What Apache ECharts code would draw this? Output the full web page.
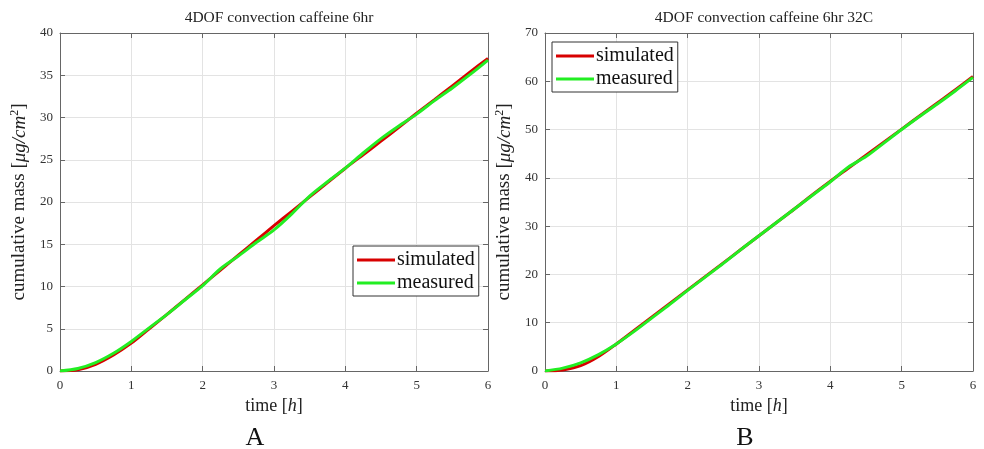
<!DOCTYPE html>
<html>
<head>
<meta charset="utf-8">
<script src="https://cdn.jsdelivr.net/npm/echarts@6/dist/echarts.min.js"></script>
<style>
  html, body { margin: 0; padding: 0; background: #fff; }
  #chart { width: 984px; height: 449px; }
</style>
</head>
<body>
<div id="chart"></div>
<script>
// Time grid (hours)
const timeH = [0, 0.25, 0.5, 0.75, 1, 1.25, 1.5, 1.75, 2, 2.25, 2.5, 2.75, 3,
  3.25, 3.5, 3.75, 4, 4.25, 4.5, 4.75, 5, 5.25, 5.5, 5.75, 6];

// Panel A: 4DOF convection caffeine 6hr
const simA = [0, 0.15, 0.8, 1.9, 3.3, 5.0, 6.7, 8.45, 10.2, 11.95, 13.7, 15.45, 17.2,
  18.9, 20.6, 22.3, 24.0, 25.6, 27.2, 28.85, 30.5, 32.1, 33.75, 35.4, 37.0];
const measA = [0, 0.3, 1.0, 2.1, 3.5, 5.1, 6.7, 8.4, 10.1, 12.1, 13.6, 15.2, 16.7,
  18.6, 20.7, 22.4, 24.0, 25.8, 27.5, 29.0, 30.4, 32.0, 33.5, 35.1, 36.8];

// Panel B: 4DOF convection caffeine 6hr 32C
const simB = [0, 0.2, 1.1, 3.0, 5.6, 8.4, 11.2, 14.0, 16.8, 19.6, 22.4, 25.2, 28.0,
  30.8, 33.6, 36.5, 39.3, 42.0, 44.7, 47.4, 50.1, 52.8, 55.5, 58.2, 61.0];
const measB = [0, 0.6, 1.7, 3.4, 5.6, 8.2, 11.0, 13.8, 16.7, 19.5, 22.3, 25.2, 28.0,
  30.8, 33.6, 36.4, 39.2, 42.2, 44.4, 47.2, 50.0, 52.7, 55.3, 58.0, 60.8];

const titles = ['4DOF convection caffeine 6hr', '4DOF convection caffeine 6hr 32C'];
const panelLabels = ['A', 'B'];
const yMax = [40, 70];
const yStep = [5, 10];
const seriesNames = ['simulated', 'measured'];

const FONT = '"Liberation Serif", "DejaVu Serif", serif';
const AXIS_COLOR = '#666';
const RED = '#d80000';
const GREEN = '#22ee22';

const pair = (xs, ys) => xs.map((x, i) => [x, ys[i]]);

const grids = [
  { left: 60, top: 33, width: 428, height: 338 },
  { left: 545, top: 33, width: 428, height: 338 }
];

// box edges stay at the grid border; ticks point into the plot box
const LINE = { show: true, onZero: false, lineStyle: { color: AXIS_COLOR, width: 1 } };
const TICK = { show: true, inside: true, length: 5, lineStyle: { color: AXIS_COLOR } };

const xAxes = [];
const yAxes = [];
grids.forEach((g, k) => {
  // bottom axis with labels and name
  xAxes.push({
    type: 'value', gridIndex: k, min: 0, max: 6, interval: 1, position: 'bottom',
    axisLine: LINE, axisTick: TICK,
    axisLabel: { color: '#333', fontFamily: FONT, fontSize: 13, margin: 8 },
    splitLine: { show: true, lineStyle: { color: '#e3e3e3', width: 1 } },
    name: '{n|time [}{i|h}{n|]}', nameLocation: 'middle', nameGap: 26,
    nameTextStyle: { rich: {
      n: { fontFamily: FONT, fontSize: 18, color: '#222' },
      i: { fontFamily: FONT, fontSize: 18, color: '#222', fontStyle: 'italic' }
    } }
  });
  // top edge of the box
  xAxes.push({
    type: 'value', gridIndex: k, min: 0, max: 6, interval: 1, position: 'top',
    axisLine: LINE, axisTick: TICK,
    axisLabel: { show: false }, splitLine: { show: false }
  });
  yAxes.push({
    type: 'value', gridIndex: k, min: 0, max: yMax[k], interval: yStep[k], position: 'left',
    axisLine: LINE, axisTick: TICK,
    axisLabel: { color: '#333', fontFamily: FONT, fontSize: 13, margin: 7 },
    splitLine: { show: true, lineStyle: { color: '#e3e3e3', width: 1 } },
    name: '{n|cumulative mass [}{i|μg/cm}{s|2}{n|]}',
    nameLocation: 'middle', nameGap: 30, nameRotate: 90,
    nameTextStyle: { rich: {
      n: { fontFamily: FONT, fontSize: 19, color: '#222' },
      i: { fontFamily: FONT, fontSize: 19, color: '#222', fontStyle: 'italic' },
      s: { fontFamily: FONT, fontSize: 12, color: '#222', verticalAlign: 'top', padding: [0, 0, 9, 0] }
    } }
  });
  // right edge of the box
  yAxes.push({
    type: 'value', gridIndex: k, min: 0, max: yMax[k], interval: yStep[k], position: 'right',
    axisLine: LINE, axisTick: TICK,
    axisLabel: { show: false }, splitLine: { show: false }
  });
});

const lineSeries = (name, data, k, color) => ({
  name, type: 'line', data, xAxisIndex: 2 * k, yAxisIndex: 2 * k,
  showSymbol: false, symbol: 'none', smooth: 0.3,
  lineStyle: { color, width: 3 }, itemStyle: { color }, z: name === 'measured' ? 3 : 2
});

const series = [
  lineSeries('simulated', pair(timeH, simA), 0, RED),
  lineSeries('measured', pair(timeH, measA), 0, GREEN),
  lineSeries('simulated', pair(timeH, simB), 1, RED),
  lineSeries('measured', pair(timeH, measB), 1, GREEN)
];

const legendBase = {
  orient: 'vertical', icon: 'rect', itemWidth: 38, itemHeight: 3, itemGap: 3,
  backgroundColor: '#fff', borderColor: '#333', borderWidth: 1,
  padding: [4, 4, 3, 4],
  textStyle: { fontFamily: FONT, fontSize: 20, color: '#111', padding: [0, 0, 0, -3] },
  data: seriesNames, selectedMode: false
};

const option = {
  backgroundColor: '#fff',
  animation: false,
  title: titles.map((t, k) => ({
    text: t, left: grids[k].left + grids[k].width / 2, top: 5, textAlign: 'center',
    textStyle: { fontFamily: FONT, fontSize: 15.5, fontWeight: 'normal', color: '#222' }
  })).concat(panelLabels.map((t, k) => ({
    text: t, left: [250, 740][k], top: 420, textAlign: 'center',
    textStyle: { fontFamily: FONT, fontSize: 26, fontWeight: 'normal', color: '#111' }
  }))),
  grid: grids,
  xAxis: xAxes,
  yAxis: yAxes,
  legend: [
    Object.assign({}, legendBase, { left: 353, top: 246 }),
    Object.assign({}, legendBase, { left: 552, top: 42 })
  ],
  series
};

const chart = echarts.init(document.getElementById('chart'), null, { renderer: 'canvas' });
chart.setOption(option);
</script>
</body>
</html>
